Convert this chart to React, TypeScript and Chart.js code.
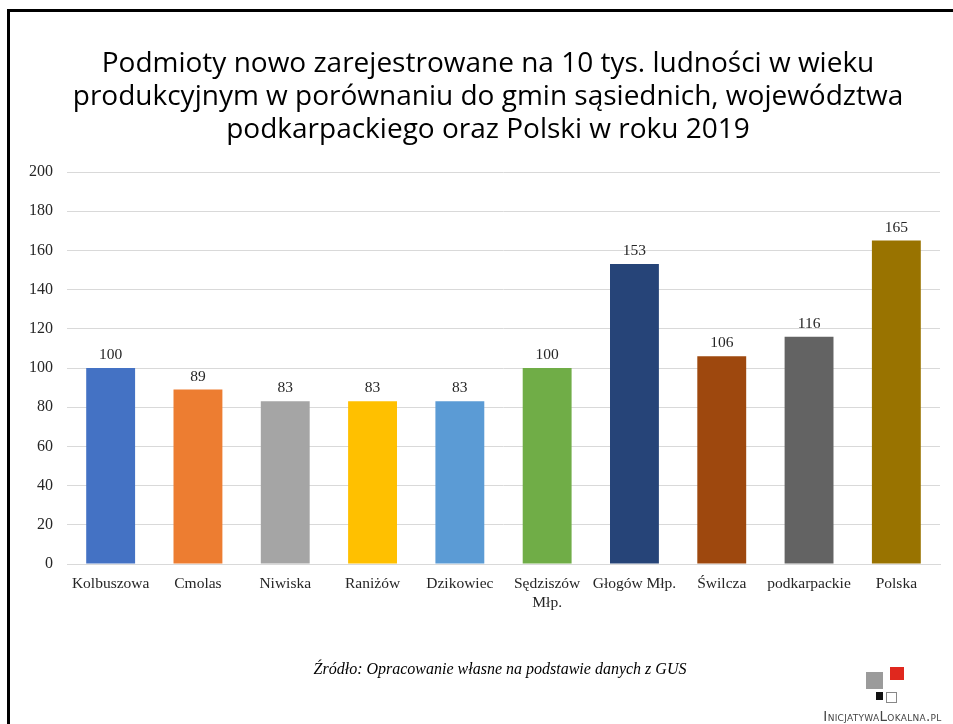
import React, { useEffect, useRef } from "react";
import { Chart, registerables } from "chart.js";

Chart.register(...registerables);

const titleLines = [
  "Podmioty nowo zarejestrowane na 10 tys. ludności w wieku",
  "produkcyjnym w porównaniu do gmin sąsiednich, województwa",
  "podkarpackiego oraz Polski w roku 2019",
];
const categories: (string | string[])[] = [
  "Kolbuszowa",
  "Cmolas",
  "Niwiska",
  "Raniżów",
  "Dzikowiec",
  ["Sędziszów", "Młp."],
  "Głogów Młp.",
  "Świlcza",
  "podkarpackie",
  "Polska",
];
const values = [100, 89, 83, 83, 83, 100, 153, 106, 116, 165];
const barColors = [
  "#4472C4",
  "#ED7D31",
  "#A5A5A5",
  "#FFC000",
  "#5B9BD5",
  "#70AD47",
  "#264478",
  "#9E480E",
  "#636363",
  "#997300",
];
const yMin = 0;
const yMax = 200;
const yStep = 20;
const sourceText = "Źródło: Opracowanie własne na podstawie danych z GUS";
const logoText = "InicjatywaLokalna.pl";

const SERIF = "'Liberation Serif', 'Times New Roman', serif";

const valueLabels = {
  id: "valueLabels",
  afterDatasetsDraw(chart: any) {
    const ctx = chart.ctx;
    const meta = chart.getDatasetMeta(0);
    ctx.save();
    ctx.font = "15.5px " + SERIF;
    ctx.fillStyle = "#262626";
    ctx.textAlign = "center";
    ctx.textBaseline = "middle";
    meta.data.forEach((bar: any, i: number) => {
      ctx.fillText(String(values[i]), bar.x, bar.y - 13);
    });
    ctx.restore();
  },
};

export default function App() {
  const ref = useRef<HTMLCanvasElement>(null);

  useEffect(() => {
    if (!ref.current) return;
    const chart = new Chart(ref.current, {
      type: "bar",
      data: {
        labels: categories,
        datasets: [
          {
            data: values,
            backgroundColor: barColors,
            borderWidth: 0,
            categoryPercentage: 1,
            barPercentage: 0.56,
          },
        ],
      },
      options: {
        animation: false,
        responsive: false,
        maintainAspectRatio: false,
        devicePixelRatio: 1,
        layout: { padding: { top: 172, left: 0, right: 13, bottom: 0 } },
        plugins: {
          legend: { display: false },
          title: { display: false },
          tooltip: { enabled: false },
        },
        scales: {
          x: {
            grid: { display: false, drawTicks: false },
            border: { display: true, color: "#d9d9d9", width: 1 },
            ticks: {
              color: "#262626",
              font: { family: SERIF, size: 15.5, lineHeight: 1.25 },
              padding: 10,
              maxRotation: 0,
              autoSkip: false,
            },
            afterFit(scale: any) {
              scale.height = 160;
            },
          },
          y: {
            min: yMin,
            max: yMax,
            grid: { color: "#d9d9d9", lineWidth: 1, drawTicks: false },
            border: { display: false },
            ticks: {
              stepSize: yStep,
              color: "#262626",
              font: { family: SERIF, size: 16 },
              padding: 14,
            },
            afterFit(scale: any) {
              scale.width = 67;
            },
          },
        },
      },
      plugins: [valueLabels],
    });
    return () => chart.destroy();
  }, []);

  return (
    <div style={{ position: "absolute", left: 0, top: 0, width: 953, height: 724, background: "#fff", overflow: "hidden" }}>
      <div
        style={{
          position: "absolute",
          left: 7,
          top: 9,
          width: 953,
          height: 724,
          borderTop: "3px solid #000",
          borderLeft: "3px solid #000",
        }}
      />
      <canvas ref={ref} width={953} height={724} style={{ position: "absolute", left: 0, top: 0, width: 953, height: 724 }} />
      <div
        style={{
          position: "absolute",
          left: 38,
          width: 900,
          top: 45,
          textAlign: "center",
          whiteSpace: "nowrap",
          fontFamily: "'Open Sans', sans-serif",
          fontSize: 28,
          lineHeight: "33px",
          color: "#000",
        }}
      >
        {titleLines.map((l, i) => (
          <div key={i}>{l}</div>
        ))}
      </div>
      <div
        style={{
          position: "absolute",
          left: 150,
          width: 700,
          top: 660,
          textAlign: "center",
          whiteSpace: "nowrap",
          fontFamily: SERIF,
          fontStyle: "italic",
          fontSize: 16,
          color: "#000",
        }}
      >
        {sourceText}
      </div>
      <div style={{ position: "absolute", left: 866, top: 672, width: 17, height: 17, background: "#9b9b9b" }} />
      <div style={{ position: "absolute", left: 890, top: 667, width: 14, height: 13, background: "#e0281e" }} />
      <div style={{ position: "absolute", left: 876, top: 692, width: 7, height: 8, background: "#111" }} />
      <div style={{ position: "absolute", left: 886, top: 692, width: 9, height: 9, background: "#fff", border: "1px solid #888" }} />
      <div
        style={{
          position: "absolute",
          left: 812,
          width: 141,
          top: 708,
          textAlign: "center",
          whiteSpace: "nowrap",
          fontFamily: "'DejaVu Sans', sans-serif",
          fontVariant: "small-caps",
          fontSize: 13.5,
          letterSpacing: 0.3,
          color: "#444",
        }}
      >
        {logoText}
      </div>
    </div>
  );
}
